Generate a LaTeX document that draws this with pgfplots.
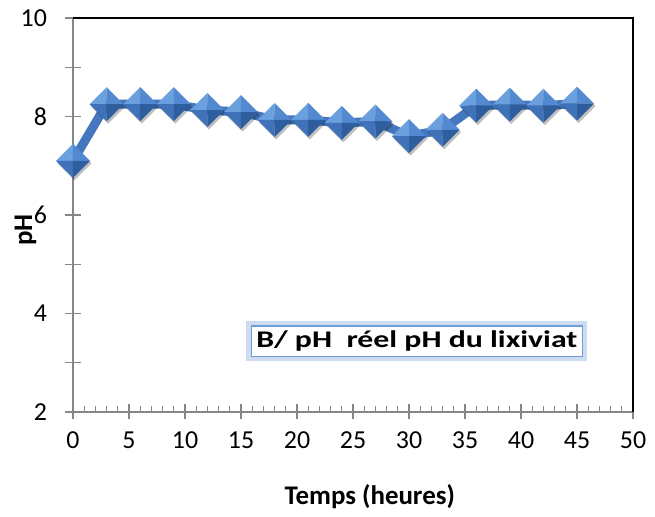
\documentclass[border=0pt]{standalone}
\usepackage{fontspec}
\setmainfont{Carlito}
\usepackage{graphicx}
\usepackage{pgfplots}
\pgfplotsset{compat=1.18}

\definecolor{serie}{HTML}{4477BD}
\definecolor{facetA}{HTML}{6AA0DE}
\definecolor{facetB}{HTML}{5289D0}
\definecolor{facetC}{HTML}{3F72B8}
\definecolor{facetD}{HTML}{2F5E9F}
\definecolor{axisgray}{HTML}{868686}
\definecolor{boxblue}{HTML}{6F9BD6}

% diamant en relief, facon Excel
\pgfdeclareplotmark{bevdiamond}{%
  \pgfsetfillopacity{0.25}\pgfsetfillcolor{black}%
  \pgfpathmoveto{\pgfqpoint{1.5pt}{\dimexpr\pgfplotmarksize-2.5pt\relax}}%
  \pgfpathlineto{\pgfqpoint{\dimexpr\pgfplotmarksize+1.5pt\relax}{-2.5pt}}%
  \pgfpathlineto{\pgfqpoint{1.5pt}{\dimexpr-\pgfplotmarksize-2.5pt\relax}}%
  \pgfpathlineto{\pgfqpoint{\dimexpr-\pgfplotmarksize+1.5pt\relax}{-2.5pt}}%
  \pgfpathclose\pgfusepath{fill}%
  \pgfsetfillopacity{1}%
  \pgfpathmoveto{\pgfpointorigin}\pgfpathlineto{\pgfqpoint{-\pgfplotmarksize}{0pt}}%
  \pgfpathlineto{\pgfqpoint{0pt}{\pgfplotmarksize}}\pgfpathclose
  \pgfsetfillcolor{facetA}\pgfusepath{fill}%
  \pgfpathmoveto{\pgfpointorigin}\pgfpathlineto{\pgfqpoint{0pt}{\pgfplotmarksize}}%
  \pgfpathlineto{\pgfqpoint{\pgfplotmarksize}{0pt}}\pgfpathclose
  \pgfsetfillcolor{facetB}\pgfusepath{fill}%
  \pgfpathmoveto{\pgfpointorigin}\pgfpathlineto{\pgfqpoint{-\pgfplotmarksize}{0pt}}%
  \pgfpathlineto{\pgfqpoint{0pt}{-\pgfplotmarksize}}\pgfpathclose
  \pgfsetfillcolor{facetC}\pgfusepath{fill}%
  \pgfpathmoveto{\pgfpointorigin}\pgfpathlineto{\pgfqpoint{\pgfplotmarksize}{0pt}}%
  \pgfpathlineto{\pgfqpoint{0pt}{-\pgfplotmarksize}}\pgfpathclose
  \pgfsetfillcolor{facetD}\pgfusepath{fill}%
}

\begin{document}
\begin{tikzpicture}
\begin{axis}[
    scale only axis,
    width=560bp, height=394bp,
    xmin=0, xmax=50, ymin=2, ymax=10,
    axis lines*=left,
    axis line style={draw=axisgray, line width=1.2bp},
    xtick pos=bottom, ytick pos=left,
    xtick={0,5,...,50},
    ytick={2,4,...,10},
    minor y tick num=1,
    extra x ticks={1,2,3,4,6,7,8,9,11,12,13,14,16,17,18,19,21,22,23,24,26,27,28,29,31,32,33,34,36,37,38,39,41,42,43,44,46,47,48,49},
    extra x tick labels={},
    extra x tick style={tick align=inside, major tick length=6bp},
    tick align=center,
    major tick length=15bp,
    minor tick length=15bp,
    tick style={draw=axisgray, line width=1.2bp},
    /pgf/number format/assume math mode=true,
    tick label style={font=\fontsize{26}{30}\selectfont},
    xticklabel style={yshift=-9bp},
    yticklabel style={xshift=-15bp},
    xlabel={\textbf{Temps (heures)}},
    ylabel={\textbf{pH}},
    xlabel style={font=\fontsize{27}{31}\selectfont,
        at={(axis description cs:0.530,-0.216)}, anchor=center},
    ylabel style={font=\fontsize{27}{31}\selectfont,
        at={(axis description cs:-0.085,0.462)}, anchor=center},
    clip=false,
]
\addplot[serie, line width=9bp, line join=round, mark=bevdiamond, mark size=17bp]
coordinates {
    (0,7.10) (3,8.25) (6,8.25) (9,8.25) (12,8.13) (15,8.09)
    (18,7.93) (21,7.93) (24,7.87) (27,7.90) (30,7.60) (33,7.73)
    (36,8.22) (39,8.24) (42,8.22) (45,8.26)
};
\draw[black, line width=1.5bp] (rel axis cs:0,1) -- (rel axis cs:1,1) -- (rel axis cs:1,0);
\node[fill=white, draw=boxblue, line width=1.5bp, inner sep=5bp,
      preaction={draw=boxblue!35, line width=10bp},
      font=\fontsize{24}{28}\selectfont\bfseries]
  at (axis cs:30.7,3.44) {\scalebox{1.33}[1]{B/ pH\ \ réel pH du lixiviat}};
\end{axis}
\pgfresetboundingbox
\path (current axis.south west) +(-73bp,-105bp);
\path (current axis.north east) +(22bp,18bp);
\end{tikzpicture}
\end{document}
